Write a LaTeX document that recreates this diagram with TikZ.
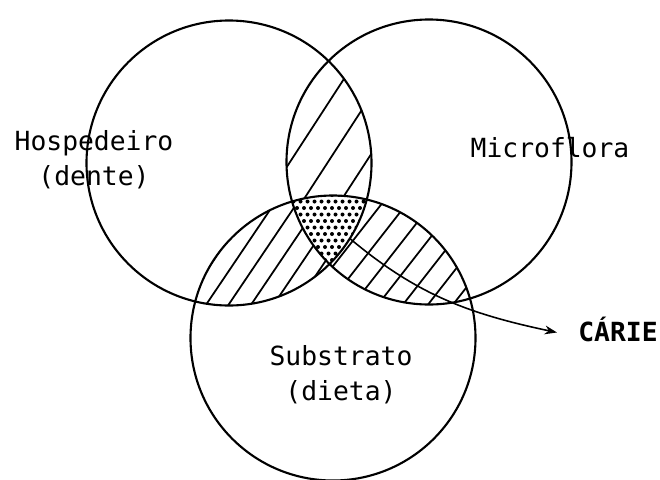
\documentclass[tikz,border=0pt]{standalone}
\usepackage{fontspec}
\setmonofont{DejaVu Sans Mono}
\usetikzlibrary{positioning, arrows.meta, calc}

\begin{document}
\begin{tikzpicture}[font=\ttfamily\fontsize{15}{19.5}\selectfont, >=Stealth,
    venn/.style={draw, circle, minimum size=5.7cm, inner sep=0pt, outer sep=0pt,
                 line width=1.2pt},
    hatch/.style={line width=1pt},
    lbl/.style={align=center, anchor=base, inner sep=0pt}]
  \useasboundingbox (0,0) rectangle (13.2,-9.58);
  \def\rad{2.85}
  \coordinate (ch) at (4.58,-3.26);
  \coordinate (cm) at (8.58,-3.24);
  \coordinate (cs) at (6.66,-6.76);
  % hatching of the three lenses
  \begin{scope}
    \clip (ch) circle (\rad); \clip (cm) circle (\rad);
    \foreach \x in {-4,...,4}
      \draw[hatch] ($(5.8,-3.24)+(\x*0.76,0)+(237:4)$) -- ++(57:8);
  \end{scope}
  \begin{scope}
    \clip (ch) circle (\rad); \clip (cs) circle (\rad);
    \foreach \x in {-9,...,9}
      \draw[hatch] ($(4.54,-6.14)+(\x*0.45,0)+(236:4)$) -- ++(56:8);
  \end{scope}
  \begin{scope}
    \clip (cm) circle (\rad); \clip (cs) circle (\rad);
    \foreach \x in {-9,...,9}
      \draw[hatch] ($(8.6,-4.76)+(\x*0.5,0)+(232:4)$) -- ++(52:8);
  \end{scope}
  % dotted centre
  \begin{scope}
    \clip (ch) circle (\rad); \clip (cm) circle (\rad); \clip (cs) circle (\rad);
    \fill[white] (ch) circle (\rad);
    \foreach \i in {0,...,11}
      \foreach \j in {0,...,11}
        \fill ({5.8+\i*0.14+mod(\j,2)*0.07}, {-3.9-\j*0.13}) circle (0.04);
  \end{scope}
  % circles
  \node[venn] (hosp)  at (ch) {};
  \node[venn] (micro) at (cm) {};
  \node[venn] (subs)  at (cs) {};
  % labels
  \node[lbl] (host) at (1.88,-3.7) {Hospedeiro\\(dente)};
  \node[lbl] (flora) at (11.0,-3.14) {Microflora};
  \node[lbl] (diet) at (6.82,-8.0) {Substrato\\(dieta)};
  \node[lbl, anchor=west, font=\ttfamily\bfseries\fontsize{15}{19.5}\selectfont] (carie) at (11.56,-6.58) {CÁRIE};
  \draw[-{Stealth[length=7pt, width=5pt]}, line width=0.9pt]
    (hosp.-32) to[out=-40, in=168] ($(carie.west)+(-0.42,-0.07)$);
\end{tikzpicture}
\end{document}
